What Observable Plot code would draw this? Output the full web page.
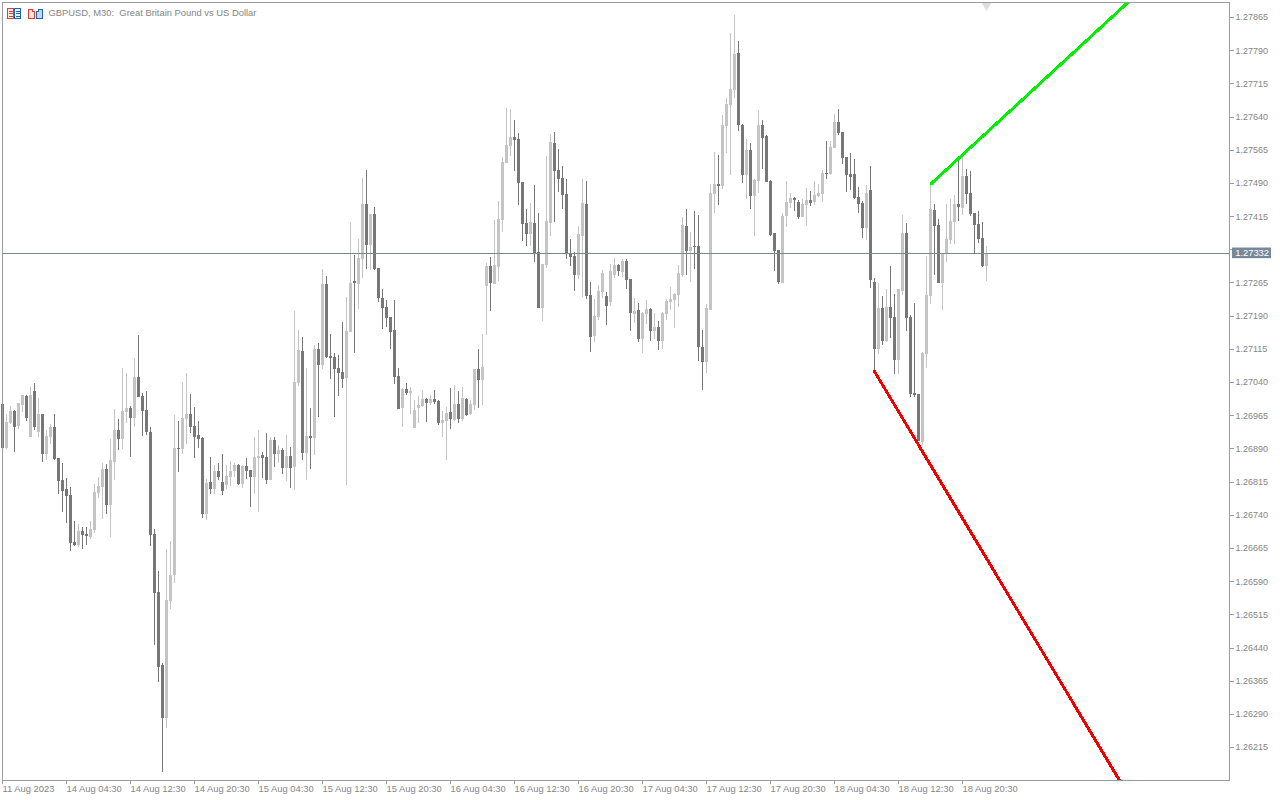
<!DOCTYPE html>
<html><head><meta charset="utf-8">
<script src="https://cdn.jsdelivr.net/npm/d3@7"></script>
<script src="https://cdn.jsdelivr.net/npm/@observablehq/plot@0.6"></script>
<style>html,body{margin:0;padding:0;background:#fff}#wrap{position:relative;width:1280px;height:800px;overflow:hidden}#icons{position:absolute;left:7px;top:8px}</style>
</head><body><div id="wrap"><svg id="icons" width="37" height="12" viewBox="0 0 37 12" shape-rendering="crispEdges">
<rect x=".5" y=".5" width="6" height="10" fill="#fde8e4" stroke="#e53a2e"/><rect x="7.5" y=".5" width="6" height="10" fill="#e6f0fa" stroke="#1c67b0"/><path d="M2 3h4M2 5.5h4M2 8h4" stroke="#e53a2e"/><path d="M9 3h4M9 5.5h4M9 8h4" stroke="#1c67b0"/>
<path d="M21.500 1.500h4v2h2v7h-6z" fill="#fde8e4" stroke="#e53a2e"/><path d="M29.500 3.500h2v-2h4v9h-6z" fill="#bcdcf5" stroke="#1c67b0"/></svg></div>
<script>
// Prices as points: 1 + value / 100000
const openPts = [
26990,26891,26947,26975,26940,26988,27008,26916,27020,26927,
26968,26877,26916,26938,26868,26819,26798,26785,26678,26671,
26703,26697,26690,26706,26789,26803,26843,26762,26859,26932,
26911,26972,26981,26958,27051,27008,26977,26927,26697,26565,
26400,26281,26545,26604,26891,26889,26956,26968,26940,26920,
26913,26742,26814,26798,26839,26814,26807,26825,26839,26852,
26810,26850,26841,26825,26868,26875,26871,26819,26909,26877,
26886,26846,26873,26848,27038,27110,26880,26918,26913,27115,
27078,27261,27099,27097,27072,27063,27049,27153,27268,27261,
27318,27442,27350,27420,27298,27230,27210,27187,27158,27054,
26981,27024,27015,26936,26981,26986,27002,26992,27002,26997,
26947,26952,26972,26954,26990,26956,27002,26968,26988,27070,
27045,27257,27302,27261,27300,27406,27535,27573,27594,27589,
27492,27399,27374,27399,27334,27207,27304,27399,27580,27519,
27501,27465,27332,27325,27282,27370,27442,27237,27144,27187,
27243,27234,27221,27282,27304,27289,27313,27273,27194,27203,
27137,27194,27205,27155,27164,27133,27194,27221,27225,27237,
27282,27393,27336,27347,27347,27119,27085,27203,27465,27488,
27483,27619,27666,27700,27784,27621,27508,27564,27460,27494,
27621,27596,27494,27377,27338,27264,27415,27445,27456,27447,
27413,27440,27451,27447,27460,27465,27512,27510,27569,27628,
27605,27549,27510,27510,27458,27445,27388,27474,27266,27115,
27207,27133,27210,27187,27090,27246,27377,27187,27015,27013,
26904,27103,27234,27429,27395,27264,27332,27361,27402,27442,
27433,27506,27467,27422,27397,27365,27302];
const closePts = [
26891,26949,26975,26938,26992,27011,26958,27011,26938,26968,
26877,26918,26938,26866,26816,26794,26782,26676,26671,26703,
26694,26692,26708,26792,26805,26843,26762,26864,26932,26911,
26975,26981,26958,27051,27006,26975,26927,26694,26563,26396,
26281,26547,26604,26891,26889,26958,26968,26938,26916,26911,
26742,26812,26798,26839,26825,26794,26828,26839,26852,26810,
26850,26839,26825,26871,26873,26868,26819,26909,26877,26886,
26846,26873,26846,27040,27112,26880,26918,26913,27115,27078,
27261,27097,27094,27070,27060,27047,27155,27264,27264,27320,
27442,27350,27420,27295,27230,27207,27185,27153,27051,26979,
27024,27015,27020,26977,26988,27002,26992,27002,26995,26947,
26954,26970,26956,26990,26956,27004,26965,26990,27070,27045,
27074,27302,27264,27304,27408,27537,27576,27594,27587,27490,
27397,27374,27402,27332,27207,27307,27404,27582,27517,27499,
27463,27329,27323,27282,27374,27445,27234,27142,27189,27246,
27286,27212,27291,27304,27291,27313,27271,27196,27200,27137,
27196,27205,27155,27164,27133,27196,27223,27228,27239,27286,
27395,27336,27345,27345,27119,27085,27207,27467,27488,27483,
27621,27668,27702,27781,27621,27508,27564,27460,27497,27621,
27591,27492,27372,27336,27266,27415,27447,27456,27451,27413,
27442,27451,27445,27463,27467,27512,27510,27571,27628,27603,
27546,27508,27503,27456,27442,27388,27467,27271,27115,27207,
27133,27210,27185,27090,27250,27377,27185,27013,27011,26907,
27106,27237,27431,27393,27264,27332,27363,27404,27442,27436,
27506,27465,27420,27395,27363,27302,27332];
const highPts = [
26990,26968,26986,26977,26992,27011,27011,27029,27038,27004,
26968,26932,26945,26968,26868,26857,26823,26803,26726,26719,
26712,26712,26726,26810,26825,26857,26855,26911,26979,26956,
27072,27060,26986,27094,27146,27015,27020,26938,26708,26613,
26405,26663,26681,26965,26952,27040,27060,27013,26983,26952,
26916,26821,26871,26852,26857,26877,26852,26861,26857,26855,
26852,26868,26841,26916,26932,26882,26925,26916,26916,26898,
26891,26920,26893,27200,27158,27142,27072,26981,27124,27128,
27295,27280,27148,27106,27101,27176,27232,27402,27327,27363,
27501,27519,27420,27436,27298,27250,27225,27187,27225,27072,
27027,27038,27029,26999,27008,27022,27004,27011,27022,26999,
26975,26983,27027,27033,27020,27029,27004,26999,27070,27115,
27148,27309,27323,27406,27449,27549,27659,27657,27632,27603,
27492,27431,27445,27485,27422,27307,27551,27601,27605,27567,
27528,27499,27363,27334,27393,27499,27494,27266,27228,27259,
27293,27243,27307,27320,27307,27318,27318,27273,27230,27219,
27198,27225,27207,27196,27178,27198,27228,27255,27241,27304,
27413,27431,27379,27427,27417,27158,27216,27488,27560,27553,
27643,27682,27829,27869,27811,27623,27589,27580,27499,27655,
27632,27598,27497,27377,27338,27422,27494,27467,27458,27451,
27454,27478,27472,27494,27488,27519,27585,27585,27646,27657,
27605,27549,27558,27544,27481,27449,27485,27528,27275,27264,
27234,27250,27302,27239,27250,27417,27399,27192,27219,27013,
27108,27325,27490,27442,27408,27332,27442,27454,27463,27544,
27555,27521,27517,27422,27427,27402,27347];
const lowPts = [
26889,26889,26945,26882,26934,26972,26952,26916,26932,26916,
26859,26864,26900,26864,26787,26746,26721,26658,26669,26667,
26662,26671,26685,26699,26778,26730,26742,26690,26819,26886,
26889,26947,26871,26938,27006,26918,26920,26669,26445,26362,
26159,26258,26527,26586,26837,26877,26900,26925,26868,26891,
26733,26728,26787,26787,26819,26785,26798,26805,26825,26807,
26801,26821,26757,26787,26746,26823,26810,26819,26848,26857,
26832,26816,26801,26796,27031,26864,26819,26843,26875,26961,
27070,27094,27047,26961,27008,27027,26807,27153,27106,27205,
27275,27295,27293,27293,27221,27160,27164,27115,27036,26979,
26938,27011,26968,26936,26947,26983,26949,26988,26990,26943,
26916,26864,26934,26952,26947,26952,26963,26965,26977,26981,
26988,27146,27200,27261,27268,27379,27535,27551,27517,27440,
27359,27347,27347,27311,27207,27178,27298,27370,27402,27469,
27431,27318,27302,27246,27273,27232,27228,27108,27131,27180,
27230,27169,27212,27275,27280,27277,27250,27155,27173,27131,
27106,27171,27133,27137,27112,27115,27180,27203,27162,27210,
27277,27282,27266,27295,27088,27022,27060,27203,27422,27440,
27476,27558,27508,27682,27607,27490,27454,27431,27370,27467,
27521,27492,27370,27291,27261,27264,27390,27433,27427,27408,
27413,27393,27438,27440,27458,27447,27499,27508,27569,27598,
27533,27469,27474,27454,27422,27365,27361,27253,27067,27103,
27124,27131,27140,27058,27058,27237,27155,27006,27006,26907,
26898,27072,27216,27282,27264,27203,27311,27352,27352,27404,
27417,27442,27415,27332,27354,27300,27268];

const priceTicks = [1.27865,1.2779,1.27715,1.2764,1.27565,1.2749,1.27415,1.2734,1.27265,1.2719,1.27115,1.2704,1.26965,1.2689,1.26815,1.2674,1.26665,1.2659,1.26515,1.2644,1.26365,1.2629,1.26215];
const timeTickBars = [0,16,32,48,64,80,96,112,128,144,160,176,192,208,224,240];
const timeTickLabels = ["11 Aug 2023","14 Aug 04:30","14 Aug 12:30","14 Aug 20:30","15 Aug 04:30","15 Aug 12:30","15 Aug 20:30","16 Aug 04:30","16 Aug 12:30","16 Aug 20:30","17 Aug 04:30","17 Aug 12:30","17 Aug 20:30","18 Aug 04:30","18 Aug 12:30","18 Aug 20:30"];
const lastPrice = 1.27332;
const greenLine = [{bar:232.25,price:1.27490},{bar:283.5,price:1.27917}];
const redLine = [{bar:218,price:1.27065},{bar:281.5,price:1.26107}];
const titleText = "GBPUSD, M30:\u00a0 Great Britain Pound vs US Dollar";

const bars = openPts.map((o,i)=>({i,open:1+o/1e5,close:1+closePts[i]/1e5,high:1+highPts[i]/1e5,low:1+lowPts[i]/1e5}));
const up = bars.filter(d=>d.close>=d.open), down = bars.filter(d=>d.close<d.open);
const LIGHT="#c4c4c4", DARK="#777777", AX="#9b9ba0", TXT="#858585";
const candle=(data,c)=>[
  Plot.ruleX(data,{x:"i",y1:"low",y2:"high",stroke:c,strokeWidth:1,shapeRendering:"crispEdges"}),
  Plot.ruleX(data,{x:"i",y1:"open",y2:"close",stroke:c,strokeWidth:3,shapeRendering:"crispEdges"})
];
const chart = Plot.plot({
  width:1280,height:800,marginLeft:2,marginRight:51,marginTop:2,marginBottom:20,
  style:{background:"#fff",fontFamily:"'Liberation Sans',sans-serif",fontSize:"9.4px",color:TXT},
  x:{type:"linear",domain:[0,306.75],range:[2,1229]},
  y:{type:"linear",domain:[1.261406,1.278989],range:[780,2]},
  marks:[
    ...candle(up,LIGHT),...candle(down,DARK),
    Plot.ruleY([lastPrice],{stroke:"#7c8792",strokeWidth:1,shapeRendering:"crispEdges"}),
    Plot.line(greenLine,{x:"bar",y:"price",stroke:"#00ee00",strokeWidth:3,clip:"frame",shapeRendering:"crispEdges"}),
    Plot.line(redLine,{x:"bar",y:"price",stroke:"#f00000",strokeWidth:3,clip:"frame",shapeRendering:"crispEdges"}),
    Plot.dot([{bar:246,price:1.27892}],{x:"bar",y:"price",symbol:"triangle",rotate:180,r:3.5,fill:"#dcdcdc",stroke:"none"}),
    Plot.frame({stroke:AX,shapeRendering:"crispEdges"}),
    Plot.axisY({anchor:"right",ticks:priceTicks,tickFormat:d=>d===1.2734?"":d.toFixed(5),tickSize:4,tickPadding:2,stroke:AX,fill:TXT,textAnchor:"start",label:null,fontSize:"9px",shapeRendering:"crispEdges"}),
    Plot.axisX({anchor:"bottom",ticks:timeTickBars,tickFormat:d=>timeTickLabels[timeTickBars.indexOf(d)],tickSize:4,tickPadding:1,stroke:AX,fill:TXT,textAnchor:"start",label:null,shapeRendering:"crispEdges"}),
    Plot.rect([{}],{x1:()=>307.5,x2:()=>317.25,y1:()=>lastPrice-0.00012,y2:()=>lastPrice+0.00012,fill:"#778899"}),
    Plot.text([`${lastPrice.toFixed(5)}`],{x:()=>312.4,y:()=>lastPrice,text:d=>d,fill:"#fff"}),
    Plot.text([titleText],{frameAnchor:"top-left",dx:46,dy:7,text:d=>d,fill:TXT,textAnchor:"start",lineAnchor:"top"})
  ]
});
document.getElementById("wrap").prepend(chart);
</script></body></html>
